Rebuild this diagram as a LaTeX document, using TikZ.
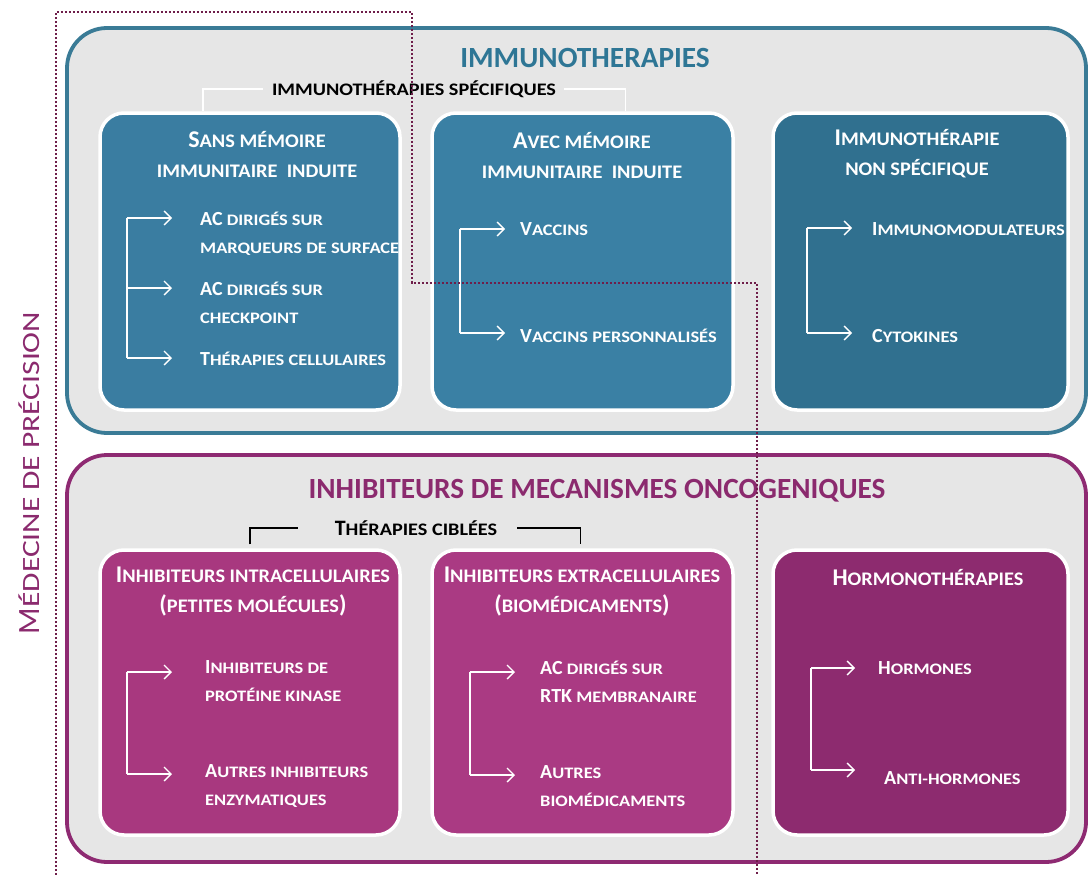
\documentclass[tikz,border=0pt]{standalone}
\usepackage{fontspec}
\setmainfont{Carlito}
\usetikzlibrary{arrows.meta}
\definecolor{gfill}{HTML}{E6E6E6}
\definecolor{bluebd}{HTML}{3A7B96}
\definecolor{bluetitle}{HTML}{2E7695}
\definecolor{blueA}{HTML}{3A7DA1}
\definecolor{blueB}{HTML}{3A80A4}
\definecolor{blueC}{HTML}{30708F}
\definecolor{magbd}{HTML}{8E2A72}
\definecolor{magtitle}{HTML}{8B2A6E}
\definecolor{magA}{HTML}{A8387F}
\definecolor{magB}{HTML}{AA3A83}
\definecolor{magC}{HTML}{8D2B6F}
\definecolor{dotc}{HTML}{6E1E4A}
\newcommand\lcs{1.15}
\makeatletter
\newcommand\lc[1]{{\fontsize{\dimexpr0.8\dimexpr\f@size pt\relax\relax}{\f@baselineskip}\selectfont\addfontfeatures{FakeStretch=\lcs}\MakeUppercase{#1}}}
\makeatother
\tikzset{
  outerbox/.style={draw, line width=3.8pt, rounded corners=40pt, fill=gfill},
  innerbox/.style={draw=white, line width=3.5pt, rounded corners=24pt},
  btitle/.style={text=white, font=\bfseries\fontsize{24}{30}\selectfont\renewcommand\lcs{1.06}, align=center, inner sep=0pt},
  itemtxt/.style={text=white, font=\bfseries\fontsize{20}{28}\selectfont, align=left, anchor=west, inner sep=0pt},
  wline/.style={draw=white, line width=1.3pt},
  arr/.style={wline, -{Straight Barb[length=7pt, width=14pt, line width=1.3pt]}},
  brw/.style={draw=white, line width=1.5pt},
  brk/.style={draw=black, line width=1.3pt},
  lbl/.style={font=\bfseries\fontsize{22}{24}\selectfont, text=black, inner sep=0pt},
  maintitle/.style={font=\bfseries\fontsize{29.3}{31}\selectfont, inner sep=0pt},
  dotline/.style={draw=dotc, line width=2.6pt, dash pattern=on 2.2pt off 1.8pt},
}
\begin{document}
\begin{tikzpicture}[x=1pt,y=-1pt]
\useasboundingbox (0,0) rectangle (1090,875);
\fill[white] (0,0) rectangle (1090,875);

% outer boxes
\node[outerbox, draw=bluebd, minimum width=1019pt, minimum height=405pt] (immu) at (576.5,230.5) {};
\node[outerbox, draw=magbd, minimum width=1019pt, minimum height=407pt] (inhib) at (576.5,658.5) {};

\node[maintitle, text=bluetitle] (t1) at (585,58) {IMMUNOTHERAPIES};
\node[maintitle, text=magtitle] (t2) at (597,491) {INHIBITEURS DE MECANISMES ONCOGENIQUES};

% inner boxes
\node[innerbox, fill=blueA, minimum width=300pt, minimum height=297pt] (b1) at (250,261.5) {};
\node[innerbox, fill=blueB, minimum width=301pt, minimum height=297pt] (b2) at (582.5,261.5) {};
\node[innerbox, fill=blueC, minimum width=295pt, minimum height=297pt] (b3) at (920.5,261.5) {};
\node[innerbox, fill=magA, minimum width=300pt, minimum height=285pt] (b4) at (250,692.5) {};
\node[innerbox, fill=magB, minimum width=301pt, minimum height=285pt] (b5) at (582.5,692.5) {};
\node[innerbox, fill=magC, minimum width=295pt, minimum height=285pt] (b6) at (920.5,692.5) {};

% box titles
\node[btitle] (b1t) at (257,155) {S\lc{ans mémoire}\\\lc{immunitaire\ \ induite}};
\node[btitle] (b2t) at (582,156) {A\lc{vec mémoire}\\\lc{immunitaire\ \ induite}};
\node[btitle] (b3t) at (917,154) {I\lc{mmunothérapie}\\\lc{non spécifique}};
\node[btitle] (b4t) at (253,591.5) {I\lc{nhibiteurs intracellulaires}\\(\lc{petites molécules})};
\node[btitle] (b5t) at (582,591.5) {I\lc{nhibiteurs extracellulaires}\\(\lc{biomédicaments})};
\node[btitle] (b6t) at (928,577) {H\lc{ormonothérapies}};

% group labels
\node[lbl] (spec) at (414,89) {\lc{immunothérapies spécifiques}};
\draw[brw] ([xshift=-47pt]b1.north) |- ([xshift=-9pt]spec.west);
\draw[brw] ([xshift=8pt]spec.east) -| ([xshift=43pt]b2.north);
\node[lbl] (cib) at (416,528) {T\lc{hérapies ciblées}};
\draw[brk] ([yshift=4pt]b4.north) |- ([xshift=-37pt]cib.west);
\draw[brk] ([xshift=20pt]cib.east) -| ([yshift=4pt,xshift=-2pt]b5.north);

% box 1 items
\node[itemtxt] (i11) at (200,234) {AC\lc{ dirigés sur}\\\lc{marqueurs de surface}};
\node[itemtxt] (i12) at (200,302.5) {AC\lc{ dirigés sur}\\\lc{checkpoint}};
\node[itemtxt] (i13) at (200,359) {T\lc{hérapies cellulaires}};
\coordinate (k11) at (127,218);
\coordinate (k12) at (127,288);
\coordinate (k13) at (127,358);
\draw[wline] (k11) -- (k13);
\draw[arr] (k11) -- ([xshift=-28pt]k11 -| i11.west);
\draw[arr] (k12) -- ([xshift=-28pt]k12 -| i12.west);
\draw[arr] (k13) -- ([xshift=-28pt]k13 -| i13.west);

% box 2 items
\node[itemtxt] (i21) at (520,229) {V\lc{accins}};
\node[itemtxt] (i22) at (520,336) {V\lc{accins personnalisés}};
\coordinate (k21) at (460,229);
\coordinate (k22) at (460,333);
\draw[wline] (k21) -- (k22);
\draw[arr] (k21) -- ([xshift=-15pt]k21 -| i21.west);
\draw[arr] (k22) -- ([xshift=-15pt]k22 -| i22.west);

% box 3 items
\node[itemtxt] (i31) at (872,229) {I\lc{mmunomodulateurs}};
\node[itemtxt] (i32) at (872,336) {C\lc{ytokines}};
\coordinate (k31) at (807,228);
\coordinate (k32) at (807,333);
\draw[wline] (k31) -- (k32);
\draw[arr] (k31) -- ([xshift=-20pt]k31 -| i31.west);
\draw[arr] (k32) -- ([xshift=-20pt]k32 -| i32.west);

% box 4 items
\node[itemtxt] (i41) at (205,681.5) {I\lc{nhibiteurs de}\\\lc{protéine kinase}};
\node[itemtxt] (i42) at (205,786.5) {A\lc{utres inhibiteurs}\\\lc{enzymatiques}};
\coordinate (k41) at (127,672);
\coordinate (k42) at (127,774);
\draw[wline] (k41) -- (k42);
\draw[arr] (k41) -- ([xshift=-33pt]k41 -| i41.west);
\draw[arr] (k42) -- ([xshift=-33pt]k42 -| i42.west);

% box 5 items
\node[itemtxt] (i51) at (540,681.5) {AC\lc{ dirigés sur}\\RTK\lc{ membranaire}};
\node[itemtxt] (i52) at (540,786.5) {A\lc{utres}\\\lc{biomédicaments}};
\coordinate (k51) at (470,672);
\coordinate (k52) at (470,775);
\draw[wline] (k51) -- (k52);
\draw[arr] (k51) -- ([xshift=-25pt]k51 -| i51.west);
\draw[arr] (k52) -- ([xshift=-25pt]k52 -| i52.west);

% box 6 items
\node[itemtxt] (i61) at (878,668) {H\lc{ormones}};
\node[itemtxt] (i62) at (884,778) {A\lc{nti-hormones}};
\coordinate (k61) at (811,668);
\coordinate (k62) at (811,770);
\draw[wline] (k61) -- (k62);
\draw[arr] (k61) -- ([xshift=-23pt]k61 -| i61.west);
\draw[arr] (k62) -- ([xshift=-29pt]k62 -| i62.west);

% vertical label
\node[rotate=90, text=magtitle, font=\fontsize{31}{34}\selectfont\renewcommand\lcs{1.27}, inner sep=0pt] (med) at (29,473) {M\lc{édecine de précision}};

% dotted precision-medicine outline
\draw[dotline] (56,875) -- (56,12) -- (412,12) -- (412,283) -- (757,283) -- (757,875);
\end{tikzpicture}
\end{document}
